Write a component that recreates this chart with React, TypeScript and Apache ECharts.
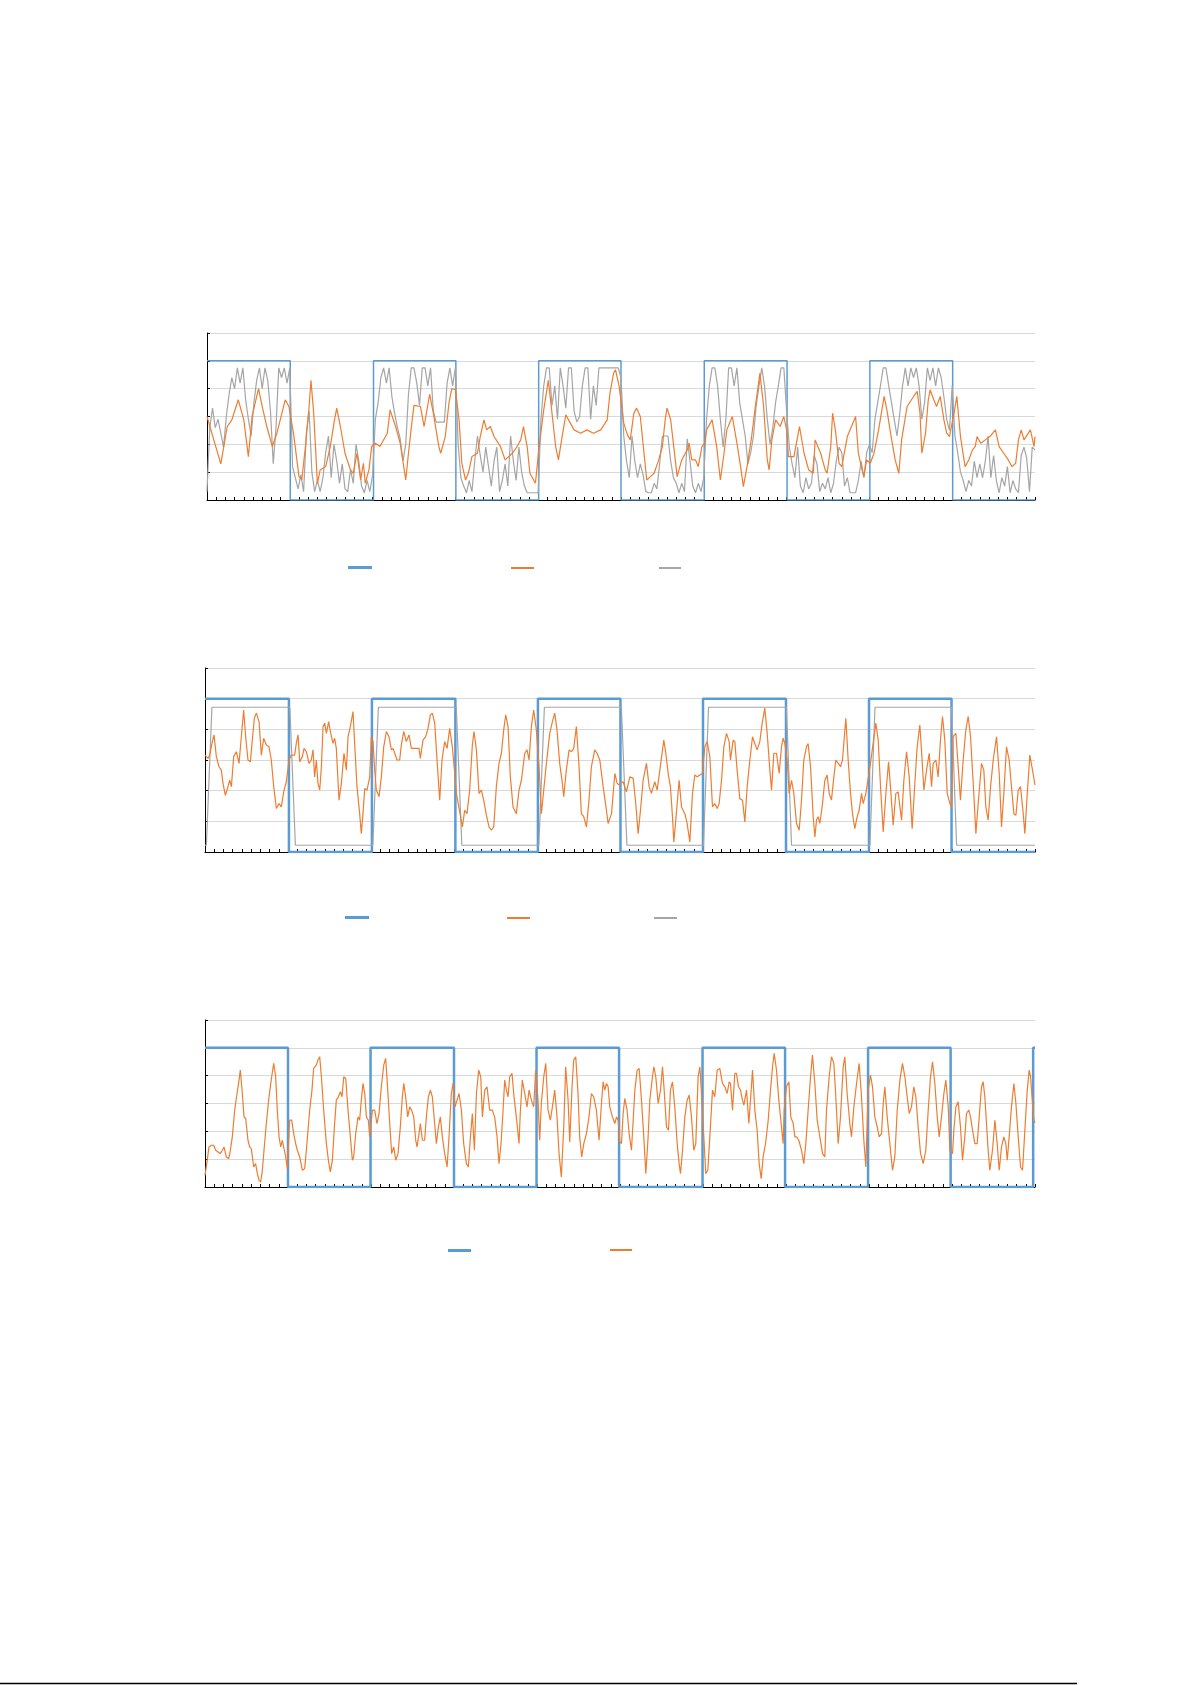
import React, { useEffect, useRef } from 'react';
import * as echarts from 'echarts';

// ─── Colours (Excel-like palette) ─────────────────────────────────────────────
const BLUE = '#5B9BD5';
const ORANGE = '#ED7D31';
const GRAY = '#A5A5A5';
const GRID = '#D9D9D9';
const AXIS = '#000000';

type Pt = [number, number];

// ─── Axis ranges (no labels are printed in the source figure) ────────────────
const X_MAX = 900;
const X_TICK = 10;
const Y_MAX = 6;
const Y_TICK = 1;

// ─── Chart 1: square setpoint, smoothed response, quantised signal ───────────
const SETPOINT_1: Pt[] = [
  [0, 5], [90.5, 0], [181, 5], [270.5, 0], [360.5, 5], [450, 0],
  [540.5, 5], [630.5, 0], [720.5, 5], [810.5, 0], [900, 0],
];

const RESPONSE_1: Pt[] = [
  [0, 3.0], [15, 1.3], [22, 2.64], [27, 2.88], [34, 3.6], [40, 2.88], [45, 1.56], [49, 3.0], [56, 4.0], [60, 3.36],
  [65, 2.64], [71, 1.92], [76, 2.4], [85, 3.6], [89, 3.36], [94, 2.4], [100, 0.84], [103, 0.72], [107, 1.92], [111, 3.36],
  [113, 4.3], [116, 3.12], [120, 0.6], [123, 1.08], [129, 1.2], [134, 1.92], [138, 2.76], [141, 3.3], [145, 2.64], [150, 1.68],
  [156, 1.08], [159, 0.96], [163, 1.68], [167, 0.72], [170, 1.32], [172, 0.6], [176, 1.08], [179, 1.92], [183, 2.04], [188, 1.92],
  [196, 2.4], [199, 3.24], [205, 2.64], [210, 2.04], [216, 0.72], [219, 1.68], [223, 2.88], [225, 3.4], [232, 3.36], [236, 2.64],
  [242, 3.8], [246, 3.12], [252, 1.92], [254, 1.68], [259, 2.28], [263, 3.48], [266, 4.0], [270, 3.96], [274, 2.88], [277, 1.32],
  [281, 0.72], [284, 0.96], [288, 1.56], [294, 1.68], [297, 2.28], [301, 2.88], [304, 2.52], [308, 2.64], [312, 2.28], [319, 1.92],
  [324, 1.44], [332, 1.68], [337, 1.92], [341, 2.16], [344, 2.64], [348, 1.92], [351, 0.96], [357, 0.6], [361, 1.92], [366, 3.24],
  [371, 4.3], [375, 3.12], [379, 1.92], [382, 1.44], [386, 2.28], [390, 3.06], [393, 2.88], [399, 2.52], [406, 2.4], [413, 2.52],
  [420, 2.4], [428, 2.52], [435, 2.88], [438, 3.84], [442, 4.56], [444, 4.68], [448, 4.08], [453, 2.76], [457, 2.34], [460, 2.16],
  [464, 3.12], [467, 3.3], [471, 3.0], [475, 1.68], [478, 0.72], [482, 0.84], [486, 0.96], [491, 1.44], [495, 1.92], [498, 2.88],
  [500, 3.3], [504, 2.88], [509, 1.44], [511, 0.84], [516, 1.44], [522, 1.8], [524, 2.04], [527, 1.44], [531, 1.44], [534, 1.2],
  [538, 1.92], [541, 2.04], [543, 2.52], [549, 2.88], [554, 1.92], [558, 0.72], [562, 1.68], [565, 2.52], [571, 3.0], [576, 2.04],
  [580, 1.2], [583, 0.48], [587, 1.2], [592, 2.28], [596, 3.36], [601, 4.56], [605, 3.36], [609, 1.44], [611, 1.08], [614, 2.16],
  [618, 2.88], [623, 2.64], [627, 3.0], [630, 2.52], [632, 1.56], [638, 1.56], [644, 2.64], [649, 1.68], [654, 1.08], [659, 0.96],
  [661, 2.16], [667, 1.68], [672, 1.08], [674, 0.96], [678, 1.92], [680, 3.12], [683, 2.52], [687, 1.32], [690, 1.2], [696, 2.28],
  [705, 3.0], [708, 1.68], [712, 1.08], [714, 0.84], [717, 1.44], [721, 1.32], [725, 1.68], [730, 2.52], [736, 3.72], [739, 3.24],
  [743, 2.4], [748, 1.44], [752, 0.96], [755, 2.16], [761, 3.36], [768, 3.72], [772, 3.9], [775, 3.12], [777, 1.68], [781, 2.4],
  [784, 3.6], [786, 3.96], [790, 3.6], [793, 3.36], [797, 3.72], [801, 2.88], [804, 2.4], [807, 2.28], [812, 3.12], [815, 3.72],
  [819, 2.28], [824, 1.2], [828, 1.44], [832, 1.8], [835, 1.92], [837, 2.28], [841, 2.04], [846, 2.16], [851, 2.28], [857, 2.52],
  [861, 1.92], [866, 1.68], [871, 1.44], [875, 1.2], [879, 1.32], [882, 2.16], [885, 2.52], [888, 2.16], [895, 2.52], [899, 1.92],
  [900, 2.28],
];

const SIGNAL_1: Pt[] = [
  [0, 0.3], [3, 2.6], [6, 3.3], [9, 2.6], [12, 2.9], [15, 2.4], [18, 1.9], [21, 3.0], [24, 3.8], [27, 4.4],
  [30, 4.0], [33, 4.75], [36, 4.2], [39, 4.75], [42, 3.6], [45, 2.9], [48, 2.3], [51, 3.5], [54, 4.3], [57, 4.75],
  [60, 4.0], [63, 4.75], [66, 4.3], [69, 3.2], [72, 1.3], [75, 2.6], [78, 4.75], [81, 4.4], [84, 4.75], [87, 4.2],
  [90, 4.75], [93, 1.2], [96, 0.8], [99, 0.4], [102, 0.9], [105, 0.3], [108, 2.4], [111, 3.2], [114, 1.0], [117, 0.3],
  [120, 0.7], [123, 0.3], [126, 0.8], [129, 1.7], [132, 2.3], [135, 0.8], [138, 2.0], [141, 1.4], [144, 0.6], [147, 1.3],
  [150, 0.4], [153, 0.3], [156, 1.1], [159, 0.6], [162, 2.0], [165, 1.4], [168, 0.5], [171, 0.26], [174, 0.7], [177, 0.3],
  [180, 0.9], [183, 2.9], [186, 3.5], [189, 4.4], [192, 4.75], [195, 4.2], [198, 4.75], [201, 3.7], [204, 3.1], [207, 2.6],
  [210, 2.2], [213, 1.4], [216, 2.0], [219, 3.8], [222, 4.75], [225, 4.75], [228, 4.2], [231, 3.4], [234, 4.75], [237, 4.75],
  [240, 4.1], [243, 4.75], [246, 3.2], [249, 2.8], [252, 2.8], [255, 2.8], [258, 2.8], [261, 4.2], [264, 4.75], [267, 4.1],
  [270, 4.75], [273, 2.0], [276, 0.8], [279, 0.5], [282, 0.26], [285, 0.7], [288, 0.3], [291, 1.4], [294, 2.3], [297, 1.6],
  [300, 1.0], [303, 1.9], [306, 1.2], [309, 0.5], [312, 1.4], [315, 1.9], [318, 0.3], [321, 0.7], [324, 1.3], [327, 0.5],
  [330, 2.3], [333, 1.4], [336, 0.7], [339, 1.9], [342, 1.0], [345, 0.5], [348, 0.26], [351, 0.26], [354, 0.26], [357, 0.26],
  [360, 0.26], [363, 2.9], [366, 4.1], [369, 4.75], [372, 4.75], [375, 3.4], [378, 4.1], [381, 2.9], [384, 4.75], [387, 4.1],
  [390, 3.3], [393, 4.75], [396, 4.75], [399, 3.2], [402, 2.8], [405, 3.0], [408, 4.1], [411, 4.75], [414, 4.75], [417, 2.9],
  [420, 4.1], [423, 3.4], [426, 4.75], [429, 4.75], [432, 4.75], [435, 4.75], [438, 4.75], [441, 4.75], [444, 4.75], [447, 4.75],
  [450, 4.4], [453, 2.3], [456, 1.4], [459, 0.8], [462, 2.3], [465, 1.4], [468, 0.8], [471, 1.3], [474, 0.9], [477, 0.3],
  [480, 0.26], [483, 0.26], [486, 0.6], [489, 0.4], [492, 1.3], [495, 2.3], [498, 2.3], [501, 2.3], [504, 1.4], [507, 0.8],
  [510, 0.6], [513, 0.26], [516, 0.6], [519, 0.3], [522, 2.2], [525, 1.4], [528, 0.5], [531, 0.26], [534, 0.6], [537, 0.3],
  [540, 0.8], [543, 2.9], [546, 4.1], [549, 4.75], [552, 4.75], [555, 4.1], [558, 2.9], [561, 1.9], [564, 2.9], [567, 4.75],
  [570, 4.75], [573, 4.1], [576, 4.75], [579, 3.5], [582, 2.9], [585, 2.3], [588, 1.3], [591, 1.7], [594, 2.3], [597, 3.4],
  [600, 4.1], [603, 4.75], [606, 4.1], [609, 2.9], [612, 2.0], [615, 2.6], [618, 3.5], [621, 4.1], [624, 4.75], [627, 4.75],
  [630, 3.2], [633, 1.9], [636, 1.3], [639, 0.8], [642, 1.9], [645, 0.5], [648, 0.26], [651, 0.8], [654, 0.4], [657, 0.6],
  [660, 1.6], [663, 1.3], [666, 0.3], [669, 0.6], [672, 0.4], [675, 0.8], [678, 0.26], [681, 0.6], [684, 1.4], [687, 1.9],
  [690, 1.7], [693, 0.5], [696, 0.8], [699, 0.26], [702, 0.26], [705, 0.26], [708, 0.7], [711, 1.4], [714, 0.8], [717, 1.7],
  [720, 2.0], [723, 1.7], [726, 2.9], [729, 3.5], [732, 4.1], [735, 4.75], [738, 4.75], [741, 4.1], [744, 3.5], [747, 2.9],
  [750, 2.3], [753, 3.1], [756, 4.1], [759, 4.75], [762, 4.1], [765, 4.75], [768, 4.4], [771, 4.75], [774, 4.1], [777, 2.9],
  [780, 3.5], [783, 4.75], [786, 4.3], [789, 4.75], [792, 4.1], [795, 4.75], [798, 4.4], [801, 3.7], [804, 2.9], [807, 2.5],
  [810, 4.1], [813, 2.3], [816, 1.7], [819, 1.0], [822, 0.7], [825, 0.3], [828, 0.7], [831, 0.5], [834, 1.4], [837, 0.8],
  [840, 1.3], [843, 0.8], [846, 1.4], [849, 2.3], [852, 0.8], [855, 1.6], [858, 0.7], [861, 0.26], [864, 0.8], [867, 0.5],
  [870, 1.2], [873, 0.26], [876, 0.7], [879, 0.4], [882, 0.26], [885, 1.6], [888, 1.9], [891, 1.5], [894, 0.3], [897, 1.9],
  [900, 1.8],
];

// ─── Chart 2: square setpoint, response, rate-limited signal ────────────────
const SETPOINT_2: Pt[] = [
  [0, 5], [91, 0], [181, 5], [271.5, 0], [361, 5], [450.5, 0],
  [540, 5], [630, 0], [720, 5], [809.5, 0], [900, 0],
];

const RESPONSE_2: Pt[] = [
  [0, 3.16], [3.3, 3.05], [5.1, 3.16], [7.6, 3.54], [9.8, 3.82], [12.3, 3.11], [15.2, 2.78], [17.7, 2.67], [19.5, 2.24], [22.1, 1.85],
  [24.9, 2.13], [26.8, 2.34], [28.6, 2.13], [31.1, 3.11], [34, 3.27], [36.9, 2.89], [39.4, 3.76], [41.9, 4.63], [44.1, 3.76], [46.6, 3.0],
  [49.2, 2.94], [51.3, 3.65], [53.5, 4.36], [55.7, 4.53], [58.6, 4.25], [61.1, 3.16], [63.6, 3.71], [66.5, 3.49], [69.4, 3.43], [71.9, 3.0],
  [74.5, 2.13], [77.4, 1.42], [80.3, 1.58], [82.8, 1.47], [85.3, 1.96], [88.2, 2.29], [91.1, 3.0], [93.6, 3.16], [97.2, 3.16], [99, 3.54],
  [100.9, 3.82], [102.7, 2.94], [105.6, 3.11], [107.4, 3.38], [109.9, 3.27], [112.8, 2.89], [115.3, 3.0], [117.1, 3.33], [118.9, 2.45], [120.7, 3.0],
  [122.5, 2.24], [124.4, 2.02], [126.2, 2.78], [128, 4.09], [129.8, 4.2], [131.6, 3.87], [134.1, 4.25], [135.9, 3.93], [138.8, 3.54], [140.6, 3.71],
  [142.4, 3.38], [145.3, 1.69], [147.9, 2.24], [150.7, 3.22], [153.3, 2.67], [155.1, 3.76], [157.6, 4.09], [160.5, 4.58], [162.3, 3.54], [164.8, 2.13],
  [167.7, 1.25], [169.5, 0.6], [171.3, 1.25], [173.2, 2.07], [175.7, 2.02], [178.6, 2.45], [180.4, 3.76], [182.2, 3.6], [184, 2.67], [185.8, 2.02],
  [188.7, 1.8], [191.2, 2.45], [193.8, 3.43], [196.7, 3.93], [199.5, 3.76], [202.1, 3.33], [203.9, 3.38], [205.7, 3.22], [208.2, 3.0], [211.1, 3.0],
  [212.9, 3.49], [215.5, 3.93], [218.3, 3.6], [221.2, 3.82], [223.8, 3.38], [226.3, 3.38], [229.2, 3.38], [232.1, 3.38], [233.5, 3.05], [236.4, 3.65],
  [239.3, 3.76], [241.8, 4.03], [244.4, 4.47], [246.5, 4.53], [249.1, 4.2], [251.6, 3.0], [254.5, 1.69], [257, 3.0], [259.9, 3.6], [262.5, 3.38],
  [265.3, 4.03], [268.2, 3.43], [270.8, 2.56], [272.6, 1.91], [276.2, 1.31], [279.1, 0.82], [281.6, 1.36], [284.1, 1.25], [287, 2.02], [289.9, 3.49],
  [291.7, 3.93], [294.3, 3.33], [297.1, 1.91], [299.7, 2.02], [302.2, 1.69], [305.1, 1.2], [308, 0.82], [310.5, 0.71], [313.1, 0.82], [315.9, 2.13],
  [318.8, 2.89], [321.4, 3.22], [323.9, 3.98], [326.1, 4.47], [328.6, 4.09], [331.1, 2.45], [334, 1.47], [337.6, 1.25], [340.5, 2.02], [343.1, 2.34],
  [346.7, 3.22], [349.2, 3.33], [351.4, 3.0], [353.9, 4.09], [356.4, 4.63], [359.3, 3.98], [362.2, 2.78], [364.8, 1.25], [367.3, 2.02], [370.2, 2.89],
  [373.8, 3.87], [376.7, 4.25], [379.2, 4.53], [381.7, 3.98], [384.6, 2.89], [387.5, 2.24], [389, 1.8], [391.8, 2.67], [394.8, 3.33], [397.3, 3.27],
  [399.8, 3.38], [402.7, 4.09], [405.6, 2.78], [408.1, 1.25], [410.7, 1.15], [413.6, 0.82], [416.4, 1.69], [419, 2.78], [422.6, 3.33], [425.1, 3.22],
  [428.1, 3.0], [431.7, 2.13], [435.3, 1.36], [437.1, 0.93], [440.8, 1.25], [444.4, 2.56], [446.9, 2.24], [449.1, 2.18], [450.5, 2.24], [453.4, 2.29],
  [457, 1.96], [460.6, 2.45], [464.3, 2.4], [467.1, 1.58], [469.7, 0.6], [472.2, 1.36], [475.1, 2.34], [478.7, 2.89], [481.6, 2.13], [484.1, 1.91],
  [487.7, 2.29], [490.3, 2.02], [493.2, 2.67], [497.5, 3.65], [499.7, 3.22], [502.2, 2.56], [504.7, 2.13], [506.9, 1.15], [508.4, 0.33], [510.5, 1.04],
  [514.1, 2.34], [516.7, 1.47], [520.3, 1.25], [522.8, 0.93], [525.7, 0.33], [528.6, 1.91], [531.1, 2.51], [533.7, 2.45], [536.6, 2.51], [539.4, 2.56],
  [542, 3.43], [544.5, 3.6], [547.4, 3.11], [550.3, 1.47], [552.8, 1.58], [555.4, 1.42], [557.5, 1.58], [560.1, 2.34], [562.6, 3.43], [565.5, 3.87],
  [568.4, 3.6], [569.8, 3.0], [572.7, 3.65], [574.5, 3.6], [577, 2.67], [579.9, 1.74], [582.8, 1.69], [585.4, 0.98], [587.9, 2.13], [590.8, 3.0],
  [593.7, 3.76], [596.2, 3.54], [598.7, 3.33], [601.6, 3.6], [604.2, 4.2], [607, 4.69], [609.6, 3.87], [612.5, 2.67], [614.3, 2.02], [616.8, 3.22],
  [619.7, 3.22], [622.6, 2.56], [625.1, 3.43], [626.9, 3.71], [628.7, 3.54], [631.3, 3.0], [633.4, 1.91], [636, 2.34], [638.5, 1.91], [641.4, 0.93],
  [644.3, 0.71], [646.8, 1.69], [649.3, 3.0], [652.2, 3.43], [654, 3.54], [656.6, 2.78], [659.5, 1.15], [661.3, 0.49], [663.1, 1.04], [664.9, 1.15],
  [666.7, 0.93], [669.6, 1.58], [672.1, 2.34], [674.6, 2.51], [676.8, 1.91], [679.3, 1.69], [681.9, 2.45], [684, 3.0], [686.6, 2.89], [689.1, 2.78],
  [691.3, 3.0], [693.8, 3.98], [694.9, 4.36], [697.4, 3.0], [700, 1.91], [702.1, 1.25], [704.6, 0.76], [707.2, 1.15], [709.3, 1.36], [711.9, 1.91],
  [713.7, 1.58], [716.6, 1.91], [721.6, 2.89], [724.5, 3.54], [727.4, 4.2], [730, 3.65], [732.5, 2.13], [735.4, 0.65], [738.3, 1.91], [741.2, 2.94],
  [743.3, 2.13], [746.2, 0.87], [749.1, 1.91], [751.6, 1.96], [755.3, 1.04], [757.8, 2.34], [760.7, 3.27], [763.6, 2.45], [766.8, 0.76], [769.7, 2.24],
  [772.2, 3.43], [775.1, 4.14], [776.9, 3.33], [779.5, 2.02], [782.4, 2.67], [785.3, 3.22], [787.8, 2.13], [789.6, 2.89], [792.5, 3.0], [795, 2.45],
  [797.5, 3.65], [799.7, 4.42], [802.2, 3.65], [804.8, 1.91], [807.7, 1.58], [809.5, 1.47], [811.3, 3.76], [814.2, 3.87], [816.7, 2.78], [819.2, 1.69],
  [822.1, 3.0], [825, 3.98], [827.6, 4.42], [830.1, 3.76], [833, 2.24], [835.9, 0.6], [838.4, 1.58], [842, 2.89], [844.5, 2.67], [846.7, 1.47],
  [849.2, 1.04], [851.8, 2.13], [854.7, 3.0], [858.3, 3.76], [861.2, 2.56], [863.7, 0.82], [866.2, 1.91], [869.1, 3.43], [872, 3.0], [874.5, 2.13],
  [877.1, 1.25], [879.3, 1.2], [881.8, 2.02], [884.3, 2.13], [887.2, 1.25], [889, 0.6], [891.6, 1.91], [894.4, 3.16], [897.3, 2.67], [900, 2.18],
];

const SIGNAL_2: Pt[] = [
  [0, 0.22], [1.5, 0.22], [7.5, 4.72], [92, 4.72], [98, 0.22], [182, 0.22], [188, 4.72], [272.5, 4.72], [278.5, 0.22],
  [362, 0.22], [368, 4.72], [451.5, 4.72], [457.5, 0.22], [540.5, 0.22], [546, 4.72], [630.5, 4.72], [636, 0.22],
  [721, 0.22], [726.5, 4.72], [809.5, 4.72], [815, 0.22], [900, 0.22],
];

// ─── Chart 3: square setpoint and response only ─────────────────────────────
const SETPOINT_3: Pt[] = [
  [0, 5], [90, 0], [179.5, 5], [270, 0], [359.5, 5], [449, 0],
  [539.5, 5], [629, 0], [719, 5], [808.5, 0], [898, 5], [900, 5],
];

const RESPONSE_3: Pt[] = [
  [0, 0.42], [2.2, 0.9], [4.3, 1.44], [6.9, 1.5], [9.4, 1.5], [11.6, 1.32], [14.1, 1.26], [16.6, 1.2], [18.8, 1.32], [20.6, 1.44],
  [23.1, 1.08], [25.7, 1.02], [27.5, 1.32], [29.6, 1.8], [32.2, 2.76], [34.7, 3.36], [36.9, 3.84], [38.3, 4.2], [40.5, 3.36], [42.3, 2.52],
  [44.1, 2.46], [46.6, 1.68], [48.4, 1.44], [50.2, 1.38], [52.8, 0.72], [54.9, 0.84], [56.8, 0.48], [58.6, 0.24], [60.4, 0.18], [62.2, 0.6],
  [64, 1.32], [66.5, 2.28], [69.4, 3.24], [72.3, 3.96], [74.5, 4.44], [76.6, 3.96], [78.4, 2.76], [80.3, 1.8], [82.1, 1.44], [83.9, 1.68],
  [85.3, 1.44], [87.5, 1.08], [89.3, 0.66], [91.8, 2.4], [94, 2.4], [96.2, 1.92], [98.3, 1.56], [100.1, 1.32], [102.7, 1.08], [105.6, 0.6],
  [108.1, 0.66], [109.9, 1.32], [111.7, 2.04], [113.5, 2.76], [116, 3.48], [117.8, 4.26], [120.7, 4.38], [122.5, 4.56], [124.4, 4.68], [126.2, 3.96],
  [128.7, 2.76], [131.6, 1.56], [133.8, 0.96], [135.9, 0.54], [138.1, 0.96], [140.3, 2.16], [142.4, 3.12], [144.6, 3.24], [146.8, 3.42], [148.6, 3.24],
  [150.4, 3.96], [152.6, 3.9], [155.1, 2.76], [157.6, 1.8], [159.8, 0.96], [161.2, 1.08], [163.4, 1.92], [166, 2.52], [167.7, 2.4], [169.5, 3.12],
  [171.3, 3.72], [173.2, 3.36], [175, 2.52], [177.1, 2.4], [178.6, 1.8], [181.5, 2.76], [184, 2.76], [186.5, 2.28], [188.7, 2.64], [191.2, 3.6],
  [193.8, 4.38], [195.9, 4.62], [197.7, 3.72], [200.3, 2.28], [202.4, 1.2], [204.6, 1.44], [206.8, 0.96], [209.3, 1.2], [211.8, 2.16], [214, 3.24],
  [215.5, 3.72], [217.6, 3.24], [219.8, 2.52], [222, 2.88], [224.1, 2.76], [226.3, 2.52], [228.5, 1.68], [229.9, 1.44], [232.1, 1.92], [233.5, 2.28],
  [235.7, 1.68], [238.2, 1.68], [240, 2.52], [242.2, 3.24], [244.4, 3.48], [246.5, 3.24], [248.7, 2.4], [250.9, 1.56], [253.1, 2.16], [255.2, 2.52],
  [257.4, 1.8], [259.9, 1.2], [262.5, 0.72], [264.6, 1.8], [267.1, 3.36], [269, 3.72], [271.1, 2.88], [273.3, 3.12], [275.5, 3.36], [278, 2.76],
  [280.5, 1.56], [283.4, 0.84], [285.6, 0.72], [287.8, 1.8], [289.9, 2.64], [292.1, 1.32], [294.3, 3.36], [296.8, 4.2], [299, 3.96], [300.8, 2.52],
  [303.3, 3.48], [305.8, 3.6], [308.7, 2.76], [311.6, 2.76], [314.1, 2.52], [316.7, 1.8], [318.8, 0.84], [321, 1.56], [323.2, 2.76], [325, 3.84],
  [326.8, 3.48], [328.6, 3.24], [330.4, 3.96], [332.9, 4.08], [335.1, 3.24], [337.6, 2.52], [340.5, 1.56], [342, 2.76], [344.1, 3.84], [346.7, 3.36],
  [349.2, 2.88], [351.4, 3.48], [353.9, 3.12], [356.4, 2.88], [358.6, 4.2], [361.1, 3.12], [362.9, 1.68], [364.7, 3.0], [367.3, 3.96], [369.5, 4.44],
  [372, 2.76], [374.5, 2.4], [376.7, 2.88], [379.2, 3.48], [381.7, 2.52], [383.9, 1.2], [386.4, 0.36], [389, 2.16], [391.1, 4.32], [393.7, 3.12],
  [395.5, 1.62], [398, 3.6], [399.8, 4.56], [402, 4.68], [404.5, 3.36], [406.3, 1.8], [408.5, 1.08], [410.7, 1.56], [413.6, 1.92], [416.4, 2.52],
  [419, 3.36], [421.5, 3.24], [424.4, 2.76], [427.3, 1.68], [429.9, 3.0], [431.7, 3.78], [433.5, 3.48], [435.3, 3.72], [437.1, 3.6], [438.9, 2.88],
  [441.8, 2.52], [444.4, 2.28], [446.2, 2.52], [448, 2.4], [449.8, 1.62], [451.6, 1.56], [453.4, 2.64], [455.2, 3.18], [457.7, 2.76], [459.9, 1.92],
  [462.4, 1.32], [464.3, 2.4], [466.1, 3.48], [468.6, 4.2], [470.8, 4.26], [473.3, 3.12], [475.8, 1.8], [478, 0.48], [480.5, 1.8], [482.3, 3.12],
  [485.2, 3.96], [486.7, 4.32], [488.8, 3.96], [491.4, 3.0], [493.9, 3.48], [496.1, 4.32], [497.9, 3.48], [500.4, 2.16], [502.6, 2.04], [504.7, 3.48],
  [506.9, 3.78], [509.4, 2.88], [512, 1.56], [514.1, 0.84], [515.6, 0.48], [517.8, 1.32], [520.3, 2.52], [522.8, 3.12], [525, 3.3], [527.5, 2.52],
  [530, 1.32], [532.2, 1.56], [534.7, 3.96], [536.6, 4.32], [538.4, 3.36], [540.9, 1.8], [543, 0.48], [545.2, 0.6], [547.4, 1.8], [550.3, 3.48],
  [552.8, 3.24], [555.4, 4.2], [558.2, 4.26], [561.1, 3.72], [563.7, 3.6], [566.2, 3.36], [568.4, 3.78], [569.8, 3.72], [572, 2.76], [574.5, 4.08],
  [576.3, 4.08], [578.5, 3.6], [580.7, 3.48], [582.8, 3.12], [584.3, 2.94], [587.2, 3.48], [589.7, 2.28], [591.5, 3.12], [593.7, 4.2], [596.2, 2.76],
  [598.7, 2.04], [600.9, 0.84], [603.1, 0.3], [605.2, 1.08], [607.8, 1.56], [610.7, 2.4], [613.2, 3.48], [615.4, 4.32], [617.2, 4.8], [619.7, 4.2],
  [622.2, 3.12], [624.4, 2.4], [626.9, 1.56], [628, 2.76], [630.5, 3.6], [633.1, 3.78], [635.2, 2.52], [637.8, 2.28], [639.6, 1.8], [641.4, 1.8],
  [643.9, 1.68], [646.8, 1.32], [649.3, 0.84], [651.5, 1.56], [654, 2.76], [656.6, 3.96], [658.7, 4.74], [661.3, 3.72], [663.8, 2.4], [666.7, 1.8],
  [669.6, 1.2], [672.1, 1.08], [673.9, 2.76], [676.8, 3.96], [679.3, 4.68], [681.9, 4.44], [684, 3.24], [686.6, 1.56], [689.1, 2.52], [692, 4.32],
  [693.8, 4.68], [696.3, 3.36], [699.2, 2.28], [701, 1.8], [703.6, 2.88], [706.5, 3.72], [709.3, 4.44], [711.9, 3.24], [714.4, 1.68], [716.6, 0.72],
  [719.1, 3.48], [721.6, 4.02], [723.8, 3.6], [726.3, 2.52], [728.9, 2.16], [731, 1.8], [733.6, 1.92], [735.4, 3.0], [737.2, 3.6], [739.7, 2.52],
  [742.6, 1.56], [745.5, 0.6], [748, 1.08], [750.6, 2.76], [753.5, 3.84], [756.3, 4.44], [758.9, 3.96], [761.4, 3.24], [763.6, 2.64], [766.1, 2.88],
  [768.6, 3.6], [770.8, 3.24], [773.3, 2.16], [775.9, 1.2], [778.8, 0.84], [781.6, 1.32], [784.2, 2.76], [786.7, 3.96], [788.9, 4.5], [791.4, 3.72],
  [794, 2.52], [796.1, 1.8], [798.6, 2.52], [801.2, 3.36], [803.3, 3.84], [805.9, 2.88], [807.7, 1.32], [810.6, 1.2], [812, 2.04], [814.2, 2.88],
  [816.7, 3.06], [819.2, 2.16], [821.4, 0.96], [823.9, 1.8], [825.7, 2.64], [828.3, 2.76], [830.1, 2.52], [832.3, 2.04], [834.8, 1.56], [837.3, 1.56],
  [839.5, 2.52], [842, 3.6], [843.8, 3.78], [845.6, 3.24], [847.4, 2.28], [849.2, 1.32], [851, 0.6], [853.9, 1.32], [856.5, 2.4], [859, 1.56],
  [861.2, 0.6], [863.7, 1.44], [866.2, 1.8], [868.4, 1.56], [869.9, 0.96], [872, 1.8], [874.5, 2.88], [877.1, 3.72], [879.3, 3.0], [881.8, 1.8],
  [884.3, 0.72], [886.5, 0.6], [889, 2.04], [891.6, 3.48], [893.7, 4.2], [895.2, 3.96], [897.3, 3.0], [898.8, 2.4], [900, 2.3],
];

// ─── Layout (pixel boxes of the three plot areas and their key-only legends) ─
const PANELS = [
  { left: 207, top: 333, width: 828, height: 167, blueWidth: 1.5 },
  { left: 205, top: 668, width: 830, height: 184, blueWidth: 2.5 },
  { left: 205, top: 1020, width: 830, height: 167, blueWidth: 2.5 },
];

const SERIES_DEFS = [
  { name: 'Setpoint 1', panel: 0, data: SETPOINT_1, color: BLUE, step: true },
  { name: 'Response 1', panel: 0, data: RESPONSE_1, color: ORANGE, step: false },
  { name: 'Signal 1', panel: 0, data: SIGNAL_1, color: GRAY, step: false },
  { name: 'Setpoint 2', panel: 1, data: SETPOINT_2, color: BLUE, step: true },
  { name: 'Response 2', panel: 1, data: RESPONSE_2, color: ORANGE, step: false },
  { name: 'Signal 2', panel: 1, data: SIGNAL_2, color: GRAY, step: false },
  { name: 'Setpoint 3', panel: 2, data: SETPOINT_3, color: BLUE, step: true },
  { name: 'Response 3', panel: 2, data: RESPONSE_3, color: ORANGE, step: false },
];

// legend keys: [series name, left, top, width, height]
const LEGEND_KEYS: [string, number, number, number, number][] = [
  ['Setpoint 1', 348, 566, 24, 3],
  ['Response 1', 511, 567, 23, 2],
  ['Signal 1', 659, 567, 22, 2],
  ['Setpoint 2', 345, 916, 24, 3],
  ['Response 2', 507, 917, 23, 2],
  ['Signal 2', 654, 917, 23, 2],
  ['Setpoint 3', 448, 1249, 23, 3],
  ['Response 3', 610, 1249, 22, 2],
];

function getOption(): echarts.EChartsCoreOption {
  return {
    animation: false,
    backgroundColor: '#FFFFFF',
    grid: PANELS.map(p => ({
      left: p.left, top: p.top, width: p.width, height: p.height,
      containLabel: false,
    })),
    xAxis: PANELS.map((_, i) => ({
      type: 'value',
      gridIndex: i,
      min: 0,
      max: X_MAX,
      interval: X_TICK,
      axisLine: { show: true, onZero: false, lineStyle: { color: AXIS, width: 1 } },
      axisTick: { show: true, inside: true, length: 3, lineStyle: { color: AXIS, width: 1 } },
      axisLabel: { show: false },
      splitLine: { show: false },
    })),
    yAxis: PANELS.map((_, i) => ({
      type: 'value',
      gridIndex: i,
      min: 0,
      max: Y_MAX,
      interval: Y_TICK,
      axisLine: { show: true, lineStyle: { color: AXIS, width: 1 } },
      axisTick: { show: true, inside: true, length: 3, lineStyle: { color: AXIS, width: 1 } },
      axisLabel: { show: false },
      splitLine: { show: true, lineStyle: { color: GRID, width: 1 } },
    })),
    legend: LEGEND_KEYS.map(([name, left, top, w, h]) => ({
      data: [name],
      left,
      top,
      padding: 0,
      icon: 'rect',
      itemWidth: w,
      itemHeight: h,
      itemGap: 0,
      selectedMode: false,
      formatter: () => '',
      textStyle: { fontSize: 1 },
    })),
    series: SERIES_DEFS.map(s => ({
      name: s.name,
      type: 'line',
      xAxisIndex: s.panel,
      yAxisIndex: s.panel,
      data: s.data,
      step: s.step ? 'end' : false,
      showSymbol: false,
      symbol: 'none',
      silent: true,
      color: s.color,
      lineStyle: {
        color: s.color,
        width: s.step ? PANELS[s.panel].blueWidth : 1.2,
      },
      z: s.step ? 2 : s.color === GRAY ? 3 : 4,
    })),
    graphic: [
      {
        type: 'line',
        shape: { x1: 0, y1: 1683.5, x2: 1077, y2: 1683.5 },
        style: { stroke: '#000000', lineWidth: 1.5 },
        silent: true,
      },
    ],
  };
}

export default function App() {
  const ref = useRef<HTMLDivElement>(null);

  useEffect(() => {
    document.body.style.margin = '0';
    if (!ref.current) return;
    const chart = echarts.init(ref.current, undefined, { renderer: 'svg' });
    chart.setOption(getOption());
    return () => chart.dispose();
  }, []);

  return <div ref={ref} style={{ width: 1192, height: 1685, background: '#FFFFFF' }} />;
}
